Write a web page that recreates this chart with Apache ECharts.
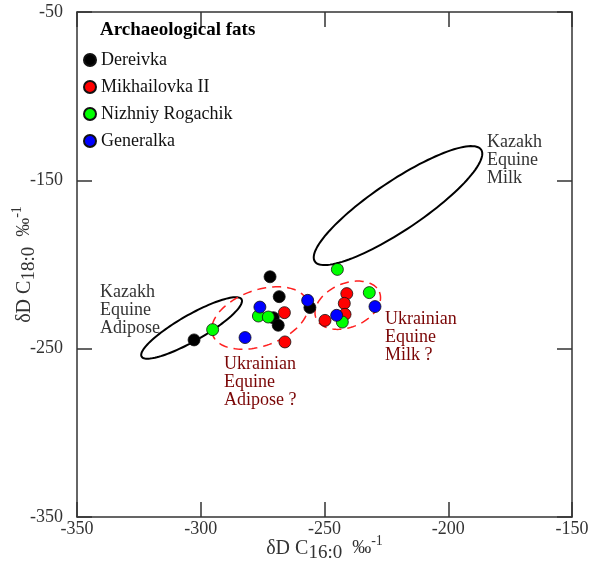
<!DOCTYPE html>
<html>
<head>
<meta charset="utf-8">
<script src="https://cdn.jsdelivr.net/npm/echarts@6/dist/echarts.min.js"></script>
<style>
  html, body { margin: 0; padding: 0; background: #fff; }
  #chart { width: 594px; height: 563px; }
</style>
</head>
<body>
<div id="chart"></div>
<script>
// Axis ranges (per mil)
const xRange = [-350, -150];
const yRange = [-350, -50];
const xStep = 50;
const yStep = 100;

// Legend entries and samples: [δD C16:0, δD C18:0]
const groupNames = ['Dereivka', 'Mikhailovka II', 'Nizhniy Rogachik', 'Generalka'];
const groupColors = ['#000000', '#ff0000', '#00ff00', '#0000ff'];

const dereivka = [[-302.7, -244.8], [-272.0, -207.3], [-268.3, -219.1], [-270.7, -231.6], [-268.7, -236.1], [-255.9, -225.6]];
const mikhailovka = [[-266.2, -228.6], [-266.0, -246.0], [-241.0, -217.3], [-242.0, -223.1], [-241.7, -229.6], [-249.8, -233.2]];
const nizhniy = [[-295.2, -238.7], [-276.7, -230.6], [-272.7, -231.2], [-244.8, -202.9], [-242.8, -234.2], [-231.9, -216.7]];
const generalka = [[-282.1, -243.4], [-276.1, -225.3], [-256.8, -221.3], [-245.1, -230.2], [-229.6, -225.0]];

const groups = [dereivka, mikhailovka, nizhniy, generalka];

// Reference ellipses: [centre x, centre y, half major axis dx, dy, minor/major ratio]
const kazakhMilk = [-220.3, -165.0, 33.6, 33.2, 0.245];
const kazakhAdipose = [-303.7, -237.7, 20.2, 17.0, 0.225];
const ukrainianAdipose = [-276.1, -231.8, 19.1, 10.0, 0.557];
const ukrainianMilk = [-240.6, -224.2, 12.8, 7.8, 0.64];

const solidEllipses = [kazakhMilk, kazakhAdipose];
const dashedEllipses = [ukrainianAdipose, ukrainianMilk];

// Region notes: top-left anchor in data units
const kazakhNotes = [
  { at: [-184.3, -122.3], text: 'Kazakh\nEquine\nMilk' },
  { at: [-340.7, -211.2], text: 'Kazakh\nEquine\nAdipose' }
];
const ukrainianNotes = [
  { at: [-290.6, -253.9], text: 'Ukrainian\nEquine\nAdipose ?' },
  { at: [-225.6, -227.2], text: 'Ukrainian\nEquine\nMilk ?' }
];

const serif = '"Liberation Serif", "DejaVu Serif", serif';

function ellipseSeries(list, stroke, width, dash) {
  return {
    type: 'custom',
    silent: true,
    z: 1,
    data: list,
    encode: { x: 0, y: 1 },
    renderItem: function (params, api) {
      const cx = api.value(0), cy = api.value(1);
      const c = api.coord([cx, cy]);
      const e = api.coord([cx + api.value(2), cy + api.value(3)]);
      const ux = e[0] - c[0], uy = e[1] - c[1];
      const a = Math.sqrt(ux * ux + uy * uy);
      const b = a * api.value(4);
      const dx = ux / a, dy = uy / a;
      const pts = [];
      const n = 120;
      for (let i = 0; i < n; i++) {
        const t = (i / n) * Math.PI * 2;
        const p = a * Math.cos(t), q = b * Math.sin(t);
        pts.push([c[0] + p * dx - q * dy, c[1] + p * dy + q * dx]);
      }
      return {
        type: 'polygon',
        shape: { points: pts },
        style: { fill: 'none', stroke: stroke, lineWidth: width, lineDash: dash }
      };
    }
  };
}

function noteSeries(notes, style) {
  return {
    type: 'custom',
    silent: true,
    z: 5,
    data: notes.map(function (n) { return n.at; }),
    encode: { x: 0, y: 1 },
    renderItem: function (params, api) {
      const p = api.coord([api.value(0), api.value(1)]);
      return {
        type: 'text',
        x: p[0],
        y: p[1],
        style: Object.assign({
          text: notes[params.dataIndex].text,
          fontFamily: serif,
          fontSize: 18,
          lineHeight: 18,
          align: 'left',
          verticalAlign: 'top'
        }, style)
      };
    }
  };
}

// Axis title with lowered subscript and raised exponent
const axisNameStyle = {
  fontFamily: serif, fontSize: 20, color: '#333',
  rich: {
    sub: { fontFamily: serif, fontSize: 19, color: '#333', padding: [10, 0, 0, 0] },
    pm: { fontFamily: serif, fontSize: 19, color: '#333' },
    sup: { fontFamily: serif, fontSize: 14, color: '#333', padding: [0, 0, 14, 0] }
  }
};

const axisLineStyle = { color: '#333', width: 1.5 };
const tickStyle = { show: true, inside: true, length: 15, lineStyle: { color: '#333', width: 1.5 } };

const chart = echarts.init(document.getElementById('chart'), null, { renderer: 'canvas' });

const scatterSeries = groups.map(function (pts, i) {
  return {
    name: groupNames[i],
    type: 'scatter',
    z: 3,
    data: pts,
    symbol: 'circle',
    symbolSize: 12,
    itemStyle: { color: groupColors[i], borderColor: '#111', borderWidth: 0.8, opacity: 1 }
  };
});

chart.setOption({
  animation: false,
  backgroundColor: '#fff',
  title: {
    text: 'Archaeological fats',
    left: 100,
    top: 21,
    padding: 0,
    textStyle: { fontFamily: serif, fontSize: 19, fontWeight: 'bold', color: '#000' }
  },
  legend: {
    data: groupNames,
    orient: 'vertical',
    left: 83,
    top: 51,
    padding: 0,
    itemGap: 9,
    itemWidth: 12,
    itemHeight: 12,
    icon: 'circle',
    textStyle: { fontFamily: serif, fontSize: 18, lineHeight: 18, color: '#111' }
  },
  grid: { left: 77, right: 22, top: 12, bottom: 46, containLabel: false, outerBoundsMode: 'none' },
  xAxis: [
    {
      type: 'value',
      position: 'bottom',
      min: xRange[0], max: xRange[1], interval: xStep,
      axisLine: { show: true, lineStyle: axisLineStyle },
      axisTick: tickStyle,
      splitLine: { show: false },
      axisLabel: { fontFamily: serif, fontSize: 18, color: '#333', margin: 3 },
      name: 'δD C{sub|16:0}  {pm|‰}{sup|-1}',
      nameLocation: 'middle',
      nameMoveOverlap: false,
      nameGap: 17,
      nameTextStyle: axisNameStyle
    },
    {
      type: 'value',
      position: 'top',
      min: xRange[0], max: xRange[1], interval: xStep,
      axisLine: { show: true, lineStyle: axisLineStyle },
      axisTick: tickStyle,
      splitLine: { show: false },
      axisLabel: { show: false }
    }
  ],
  yAxis: [
    {
      type: 'value',
      position: 'left',
      min: yRange[0], max: yRange[1], interval: yStep,
      axisLine: { show: true, lineStyle: axisLineStyle },
      axisTick: tickStyle,
      splitLine: { show: false },
      axisLabel: { fontFamily: serif, fontSize: 18, color: '#333', margin: 14 },
      name: 'δD C{sub|18:0}  {pm|‰}{sup|-1}',
      nameLocation: 'middle',
      nameRotate: 90,
      nameMoveOverlap: false,
      nameGap: 38,
      nameTextStyle: axisNameStyle
    },
    {
      type: 'value',
      position: 'right',
      min: yRange[0], max: yRange[1], interval: yStep,
      axisLine: { show: true, lineStyle: axisLineStyle },
      axisTick: tickStyle,
      splitLine: { show: false },
      axisLabel: { show: false }
    }
  ],
  series: [
    ellipseSeries(solidEllipses, '#000', 2, null),
    ellipseSeries(dashedEllipses, '#ff2020', 1.5, [9, 6])
  ].concat(scatterSeries).concat([
    noteSeries(kazakhNotes, { fill: '#333' }),
    noteSeries(ukrainianNotes, {
      fill: '#7a0505',
      textShadowColor: 'rgba(0,0,0,0.9)',
      textShadowOffsetX: 1,
      textShadowOffsetY: 0,
      textShadowBlur: 0
    })
  ])
});
</script>
</body>
</html>
